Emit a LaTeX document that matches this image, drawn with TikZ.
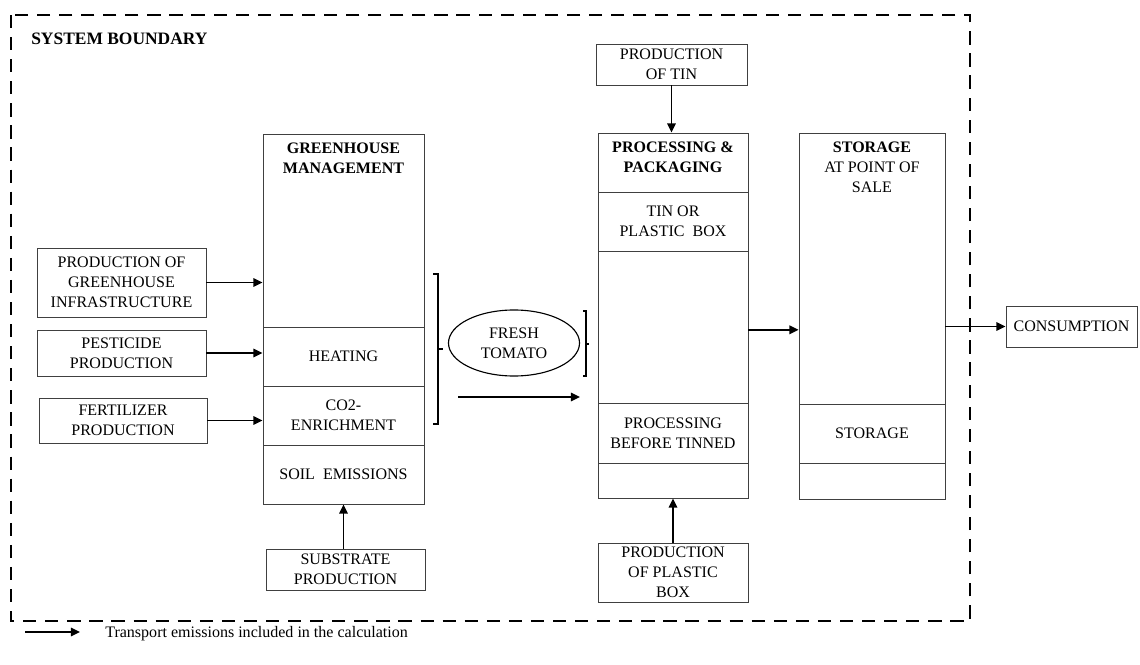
\documentclass[tikz,border=0pt]{standalone}
\usepackage{fontspec}
\setmainfont{Liberation Serif}
\usepackage{tikz}
\usetikzlibrary{arrows}
\usetikzlibrary{arrows.meta}
\usetikzlibrary{shapes.geometric}
\tikzset{box/.style 2 args={draw=black!75, line width=0.6pt, align=center,
         inner sep=1pt, text=black, minimum width=#1cm, minimum height=#2cm,
         font=\fontsize{11.4}{14.2}\selectfont},
         title/.style={anchor=north, align=center, inner sep=0pt, text=black,
         font=\bfseries\fontsize{11.4}{14.2}\selectfont},
         arr/.style={-{Triangle[length=6.5pt,width=6pt]}, line width=1.3pt},
         bound/.style={line width=1.4pt, dash pattern=on 9.4pt off 6.3pt}}

\begin{document}
\begin{tikzpicture}[x=0.025cm, y=-0.025cm]
        \useasboundingbox (0,0) rectangle (1140,665);

        % System boundary
        \draw[bound] (11,15) rectangle (970,621);
        \node[anchor=west, inner sep=0pt, font=\bfseries\fontsize{12.4}{14}\selectfont] (sysb) at (31,39) {SYSTEM BOUNDARY};

        % Inputs on the left
        \node[box={4.225}{1.725}] (infra) at (121.5,282.5) {PRODUCTION OF\\GREENHOUSE\\INFRASTRUCTURE};
        \node[box={4.225}{1.15}] (pest) at (121.5,353) {PESTICIDE\\PRODUCTION};
        \node[box={4.2}{1.125}] (fert) at (123,420.5) {FERTILIZER\\PRODUCTION};

        % Greenhouse column
        \node[box={4.025}{4.825}] (ghtop) at (343.5,230.5) {};
        \node[title] (ghtitle) at ([yshift=-6.4pt]ghtop.north) {GREENHOUSE\\MANAGEMENT};
        \node[box={4.025}{1.475}] (ghheat) at (343.5,356.5) {HEATING};
        \node[box={4.025}{1.475}] (ghco2) at (343.5,415.5) {CO2-\\ENRICHMENT};
        \node[box={4.025}{1.475}] (ghsoil) at (343.5,474.5) {SOIL\ \ EMISSIONS};
        \node[box={3.975}{1.025}] (substr) at (345.5,569.5) {SUBSTRATE\\PRODUCTION};

        \draw[arr] (infra.east) -- (infra.east -| ghtop.west);
        \draw[arr] (pest.east) -- (pest.east -| ghheat.west);
        \draw[arr] (fert.east) -- (fert.east -| ghco2.west);
        \draw[arr] (ghsoil.south |- substr.north) -- (ghsoil.south);

        % Fresh tomato with brackets
        \draw[line width=0.8pt] (433,274) -- (438,274) -- (438,424) -- (433,424);
        \draw[line width=0.8pt] (438,349) -- (443,349);
        \node[draw, ellipse, line width=0.8pt, align=center, inner sep=0pt, text=black,
              minimum width=3.275cm, minimum height=1.65cm,
              font=\fontsize{11.4}{14.2}\selectfont] (tomato) at (514,343) {FRESH\\TOMATO};
        \draw[line width=0.8pt] (583,311) -- (586,311) -- (586,376) -- (583,376);
        \draw[line width=0.8pt] (586,344) -- (589,344);
        \coordinate (fw0) at (458,397);
        \coordinate (fw1) at (580,397);
        \draw[arr] (fw0) -- (fw1);

        % Processing and packaging column
        \node[box={3.775}{1.025}] (tin) at (671.5,64.5) {PRODUCTION\\OF TIN};
        \node[box={3.75}{1.475}] (pptop) at (673,162.5) {};
        \node[title] (pptitle) at ([yshift=-6.4pt]pptop.north) {PROCESSING \&\\PACKAGING};
        \node[box={3.75}{1.475}] (ppbox) at (673,221.5) {TIN OR\\PLASTIC\ \ BOX};
        \node[box={3.75}{3.8}] (ppmid) at (673,327) {};
        \node[box={3.75}{1.5}] (ppbefore) at (673,433) {PROCESSING\\BEFORE TINNED};
        \node[box={3.75}{0.875}] (ppbot) at (673,480.5) {};
        \node[box={3.75}{1.475}] (plastic) at (673,572.5) {PRODUCTION\\OF PLASTIC\\BOX};

        \draw[arr] (tin.south) -- (tin.south |- pptop.north);
        \draw[arr] (plastic.north) -- (ppbot.south);

        % Storage column
        \node[box={3.65}{6.775}] (sttop) at (872,268.5) {};
        \node[title] (sttitle) at ([yshift=-6.4pt]sttop.north) {STORAGE\\\mdseries AT POINT OF\\\mdseries SALE};
        \node[box={3.65}{1.475}] (ststor) at (872,433.5) {STORAGE};
        \node[box={3.65}{0.9}] (stbot) at (872,481) {};

        \draw[arr] ([yshift=-2pt]ppmid.east) -- ([yshift=-2pt]ppmid.east -| sttop.west);

        % Consumption outside the boundary
        \node[box={3.275}{1.025}] (cons) at (1071.5,326.5) {CONSUMPTION};
        \draw[arr] (sttop.east |- cons.west) -- (cons.west);

        % Legend
        \coordinate (lg0) at (25,632);
        \coordinate (lg1) at (80,632);
        \draw[arr] (lg0) -- (lg1);
        \node[anchor=base west, inner sep=0pt, text=black, font=\fontsize{11.4}{14}\selectfont] (lgtext) at (105,637) {Transport emissions included in the calculation};
\end{tikzpicture}
\end{document}
